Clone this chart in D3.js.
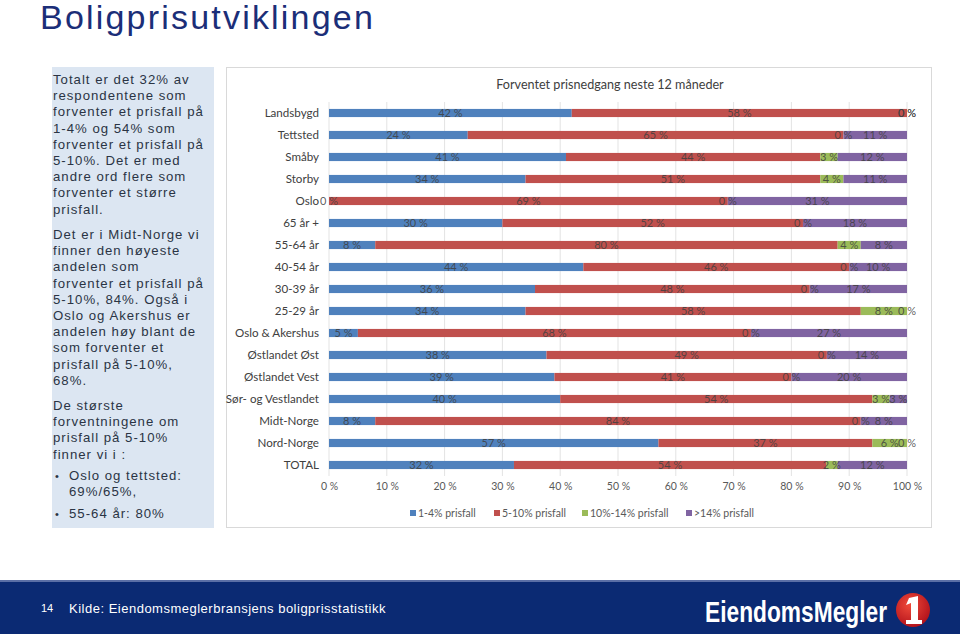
<!DOCTYPE html>
<html><head><meta charset="utf-8">
<script src="https://cdn.jsdelivr.net/npm/d3@7/dist/d3.min.js"></script>
<style>
html,body{margin:0;padding:0;background:#fff;}
svg{display:block;}
</style></head>
<body>
<svg id="c" width="960" height="634"></svg>
<script>
const categories = ["Landsbygd","Tettsted","Småby","Storby","Oslo","65 år +","55-64 år","40-54 år","30-39 år","25-29 år","Oslo & Akershus","Østlandet Øst","Østlandet Vest","Sør- og Vestlandet","Midt-Norge","Nord-Norge","TOTAL"];
const s1_4 =   [42,24,41,34,0,30,8,44,36,34,5,38,39,40,8,57,32];
const s5_10 =  [58,65,44,51,69,52,80,46,48,58,68,49,41,54,84,37,54];
const s10_14 = [0,0,3,4,0,0,4,0,0,8,0,0,0,3,0,6,2];
const s14 =    [0,11,12,11,31,18,8,10,17,0,27,14,20,3,8,0,12];
const seriesNames = ["1-4% prisfall","5-10% prisfall","10%-14% prisfall",">14% prisfall"];
const seriesColors = ["#4F81BD","#C0504D","#9BBB59","#8064A2"];
const xTicks = [0,0.1,0.2,0.3,0.4,0.5,0.6,0.7,0.8,0.9,1];
const chartTitle = "Forventet prisnedgang neste 12 måneder";
const pageTitle = "Boligprisutviklingen";
const para1 = ["Totalt er det 32% av","respondentene som","forventer et prisfall på","1-4% og 54% som","forventer et prisfall på","5-10%. Det er med","andre ord flere som","forventer et større","prisfall."];
const para2 = ["Det er i Midt-Norge vi","finner den høyeste","andelen som","forventer et prisfall på","5-10%, 84%. Også i","Oslo og Akershus er","andelen høy blant de","som forventer et","prisfall på 5-10%,","68%."];
const para3 = ["De største","forventningene om","prisfall på 5-10%","finner vi i :"];
const bullets = [["Oslo og tettsted:","69%/65%,"],["55-64 år: 80%"]];
const footerPage = "14";
const footerSource = "Kilde: Eiendomsmeglerbransjens boligprisstatistikk";

const svg = d3.select("#c");
const cf = "Lato, 'Open Sans', sans-serif";
const af = "'Liberation Sans', Arial, sans-serif";

// Page title
svg.append("text").attr("x",40).attr("y",29).attr("font-family",af).attr("font-size",34)
  .attr("letter-spacing",2.2).attr("fill","#1B2E78").text(pageTitle);

// Left text box
svg.append("rect").attr("x",52).attr("y",67).attr("width",162).attr("height",461).attr("fill","#DCE6F2");
const tg = svg.append("g").attr("font-family",af).attr("font-size",13.2).attr("fill","#2A3444").attr("letter-spacing",1.0);
function para(lines,y0){ lines.forEach((l,i)=>tg.append("text").attr("x",53).attr("y",y0+i*16.2).text(l)); }
para(para1,84);
para(para2,239);
para(para3,410);
let by=[480,518];
bullets.forEach((b,j)=>{
  tg.append("text").attr("x",55).attr("y",by[j]).attr("font-size",11).text("•");
  b.forEach((l,i)=>tg.append("text").attr("x",69).attr("y",by[j]+i*16.2).text(l));
});

// Chart frame
svg.append("rect").attr("x",226.5).attr("y",67.5).attr("width",705).attr("height",460)
  .attr("fill","#fff").attr("stroke","#D9D9D9");
svg.append("text").attr("x",610).attr("y",89).attr("text-anchor","middle").attr("font-family",cf)
  .attr("font-size",12.6).attr("fill","#404040").text(chartTitle);

const x = d3.scaleLinear().domain([0,1]).range([329,907]);
const y = d3.scaleBand().domain(categories).range([102,476]).paddingInner(0.63).paddingOuter(0.315);

// gridlines
svg.append("g").selectAll("line").data(xTicks).join("line")
  .attr("x1",d=>x(d)).attr("x2",d=>x(d)).attr("y1",102).attr("y2",476)
  .attr("stroke","#E3E3E3").attr("stroke-width",1);

// axis
const xAxis = d3.axisBottom(x).tickValues(xTicks).tickSize(0).tickPadding(0)
  .tickFormat(d=>Math.round(d*100)+" %");
const ax = svg.append("g").attr("transform","translate(0,486)").call(xAxis);
ax.select(".domain").remove();
ax.selectAll("text").attr("font-family",cf).attr("font-size",10.5).attr("fill","#595959").attr("dy","0.35em").attr("y",0);

// category labels
const yAxis = d3.axisLeft(y).tickSize(0).tickPadding(0);
const ay = svg.append("g").attr("transform","translate(319,0)").call(yAxis);
ay.select(".domain").remove();
ay.selectAll("text").attr("font-family",cf).attr("font-size",11.6).attr("fill","#404040");

// stacked data
const rows = categories.map((c,i)=>({cat:c, a:s1_4[i], b:s5_10[i], c:s10_14[i], d:s14[i]}));
const keys = ["a","b","c","d"];
const stack = d3.stack().keys(keys).offset(d3.stackOffsetExpand);
const layers = stack(rows);

const bars = svg.append("g");
layers.forEach((layer,k)=>{
  bars.append("g").attr("fill",seriesColors[k]).selectAll("rect").data(layer).join("rect")
    .attr("x",d=>x(d[0])).attr("width",d=>Math.max(0,x(d[1])-x(d[0])))
    .attr("y",d=>y(d.data.cat)).attr("height",y.bandwidth());
});
const lab = svg.append("g").attr("font-family",cf).attr("font-size",11).attr("fill","#404040").attr("text-anchor","middle");
layers.forEach((layer,k)=>{
  lab.append("g").selectAll("text").data(layer).join("text")
    .attr("x",d=>x((d[0]+d[1])/2)).attr("y",d=>y(d.data.cat)+y.bandwidth()/2).attr("dy","0.35em")
    .attr("fill-opacity",0.85)
    .text(d=>d.data[keys[k]]+" %");
});

// legend
const legX = [410,494,582,686];
const leg = svg.append("g").attr("font-family",cf).attr("font-size",10.5).attr("fill","#595959");
seriesNames.forEach((n,i)=>{
  leg.append("rect").attr("x",legX[i]).attr("y",510).attr("width",6).attr("height",6).attr("fill",seriesColors[i]);
  leg.append("text").attr("x",legX[i]+8).attr("y",513).attr("dy","0.35em").text(n);
});

// footer
svg.append("rect").attr("x",0).attr("y",580).attr("width",960).attr("height",2).attr("fill","#5B6FA6");
svg.append("rect").attr("x",0).attr("y",582).attr("width",960).attr("height",52).attr("fill","#0B2A73");
svg.append("text").attr("x",41).attr("y",612).attr("font-family",af).attr("font-size",11).attr("fill","#fff").text(footerPage);
svg.append("text").attr("x",69).attr("y",613).attr("font-family",af).attr("font-size",13).attr("fill","#fff").attr("letter-spacing",0.5).text(footerSource);
svg.append("text").attr("x",705).attr("y",622).attr("font-family",af).attr("font-size",29).attr("font-weight","bold").attr("fill","#fff")
  .attr("textLength",182).attr("lengthAdjust","spacingAndGlyphs").text("EiendomsMegler");
const defs = svg.append("defs");
const rg = defs.append("radialGradient").attr("id","rg").attr("cx","40%").attr("cy","35%").attr("r","70%");
rg.append("stop").attr("offset","0%").attr("stop-color","#F04A3A");
rg.append("stop").attr("offset","100%").attr("stop-color","#B0101A");
svg.append("circle").attr("cx",913).attr("cy",610).attr("r",17).attr("fill","url(#rg)");
// logo "1" glyph drawn as a shape
svg.append("path").attr("fill","#fff")
  .attr("d","M909,598 L918,596 L918,620 L922,620 L922,624 L906,624 L906,620 L911,620 L911,603 L906,605 Z");
</script>
</body></html>
